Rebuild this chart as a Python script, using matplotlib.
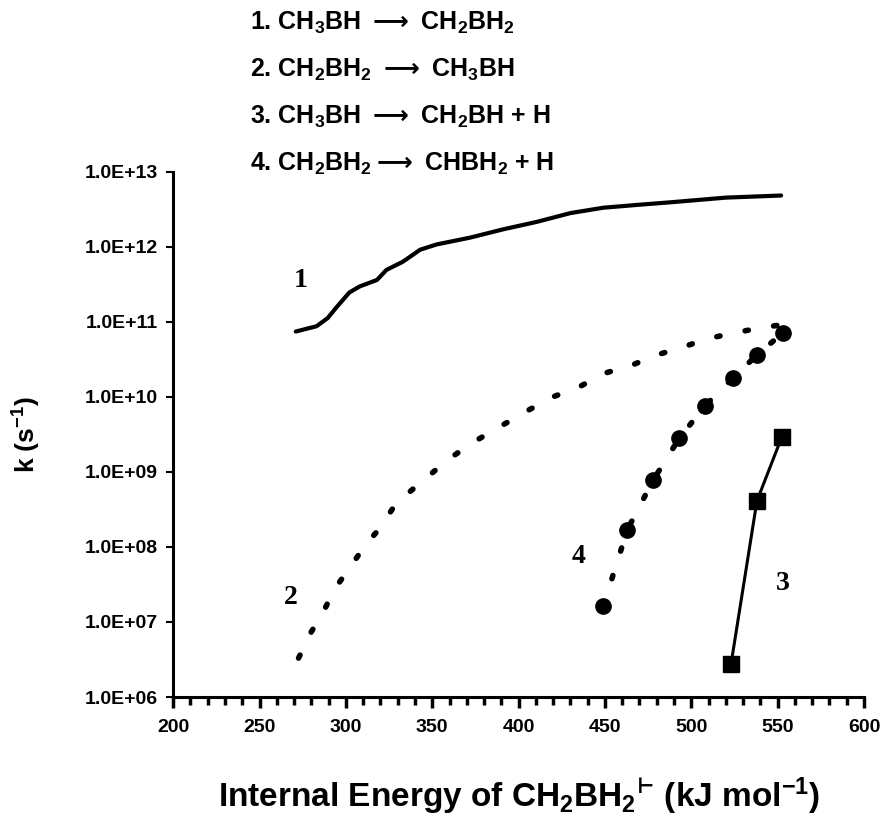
import matplotlib
matplotlib.use("Agg")
import matplotlib.pyplot as plt
from matplotlib.ticker import FixedLocator, MultipleLocator, NullLocator

# curve 1: CH3BH -> CH2BH2 (solid line)
energy_1 = [271, 283, 289.5, 294.5, 302, 308, 318, 323.5, 333, 343, 352.5,
            372, 391, 410.6, 430, 449, 468.7, 488, 520, 552]
k_1 = [7.4e10, 8.7e10, 1.12e11, 1.55e11, 2.45e11, 2.95e11, 3.6e11, 4.9e11,
       6.3e11, 9.1e11, 1.07e12, 1.32e12, 1.7e12, 2.14e12, 2.8e12, 3.3e12,
       3.6e12, 3.9e12, 4.5e12, 4.8e12]

# curve 2: CH2BH2 -> CH3BH (dotted)
energy_2 = [272.6, 280, 286.5, 293.5, 302, 311.5, 318, 329.5, 344, 359, 374,
            390, 405, 420, 435, 449.5, 465, 479, 494, 509, 524.6, 538, 552]
k_2 = [3.3e6, 7.4e6, 1.3e7, 2.75e7, 5.2e7, 1.07e8, 1.6e8, 3.9e8, 7.4e8,
       1.45e9, 2.5e9, 4.1e9, 6.5e9, 1.0e10, 1.35e10, 2.05e10, 2.6e10,
       3.55e10, 4.5e10, 5.9e10, 7.1e10, 8.1e10, 9.1e10]

# curve 3: CH3BH -> CH2BH + H (squares)
energy_3 = [523, 538, 552.5]
k_3 = [2.75e6, 4.1e8, 2.95e9]

# curve 4: CH2BH2 -> CHBH2 + H (circles, dotted)
energy_4 = [449, 463, 478, 493, 508, 524, 538, 553]
k_4 = [1.62e7, 1.7e8, 7.8e8, 2.8e9, 7.6e9, 1.78e10, 3.6e10, 7.1e10]

reactions = [
    r"1. CH$\mathregular{_3}$BH $\longrightarrow$ CH$\mathregular{_2}$BH$\mathregular{_2}$",
    r"2. CH$\mathregular{_2}$BH$\mathregular{_2}$ $\longrightarrow$ CH$\mathregular{_3}$BH",
    r"3. CH$\mathregular{_3}$BH $\longrightarrow$ CH$\mathregular{_2}$BH + H",
    r"4. CH$\mathregular{_2}$BH$\mathregular{_2}$$\longrightarrow$ CHBH$\mathregular{_2}$ + H",
]
y_ticks = [1e6, 1e7, 1e8, 1e9, 1e10, 1e11, 1e12, 1e13]
y_labels = ["1.0E+06", "1.0E+07", "1.0E+08", "1.0E+09",
            "1.0E+10", "1.0E+11", "1.0E+12", "1.0E+13"]

SANS = ["Liberation Sans", "DejaVu Sans"]
SERIF = ["Liberation Serif", "DejaVu Serif"]
DOTS = (0, (0.6, 4.6))

plt.rcParams["font.family"] = SANS
plt.rcParams["font.weight"] = "bold"
plt.rcParams["mathtext.fontset"] = "dejavusans"

fig = plt.figure(figsize=(8.88, 8.21), dpi=100)
ax = fig.add_axes([0.195, 0.151, 0.778, 0.64])

ax.plot(energy_1, k_1, color="black", lw=3.0, solid_capstyle="round")
ax.plot(energy_2, k_2, color="black", lw=4.0, linestyle=DOTS,
        dash_capstyle="round")
ax.plot(energy_4, k_4, color="black", lw=4.0, linestyle=DOTS,
        dash_capstyle="round", marker="o", markersize=11)
ax.plot(energy_3, k_3, color="black", lw=2.2, marker="s", markersize=11)

ax.set_yscale("log")
ax.set_xlim(200, 600)
ax.set_ylim(1e6, 1e13)
ax.yaxis.set_major_locator(FixedLocator(y_ticks))
ax.yaxis.set_minor_locator(NullLocator())
ax.set_yticklabels(y_labels)
ax.xaxis.set_major_locator(MultipleLocator(50))
ax.xaxis.set_minor_locator(MultipleLocator(10))

for side in ["top", "right"]:
    ax.spines[side].set_visible(False)
for side in ["left", "bottom"]:
    ax.spines[side].set_linewidth(2.2)
ax.tick_params(axis="y", which="major", direction="out", length=5, width=1.5,
               labelsize=14, pad=6)
ax.tick_params(axis="x", which="major", direction="out", length=8, width=2.5,
               labelsize=14, pad=8)
ax.tick_params(axis="x", which="minor", direction="out", length=6, width=2.5)

ax.set_xlabel(r"Internal Energy of CH$\mathregular{_2}$BH$\mathregular{_2}$$^{\mathregular{⊢}}$ (kJ mol$\mathregular{^{-1}}$)",
              fontsize=24, fontweight="bold", labelpad=28)
ax.set_ylabel(r"k (s$\mathregular{^{-1}}$)", fontsize=19, fontweight="bold",
              labelpad=30)

# curve numbers
ax.text(274, 3.5e11, "1", family=SERIF, fontsize=20, ha="center", va="center")
ax.text(268, 2.1e7, "2", family=SERIF, fontsize=20, ha="center", va="center")
ax.text(553, 3.3e7, "3", family=SERIF, fontsize=20, ha="center", va="center")
ax.text(434.6, 7.4e7, "4", family=SERIF, fontsize=20, ha="center", va="center")

for i, line in enumerate(reactions):
    fig.text(250 / 888, 1 - (23 + 47 * i) / 821, line, fontsize=18,
             fontweight="bold", ha="left", va="center")

fig.savefig("out.png", dpi=100)
